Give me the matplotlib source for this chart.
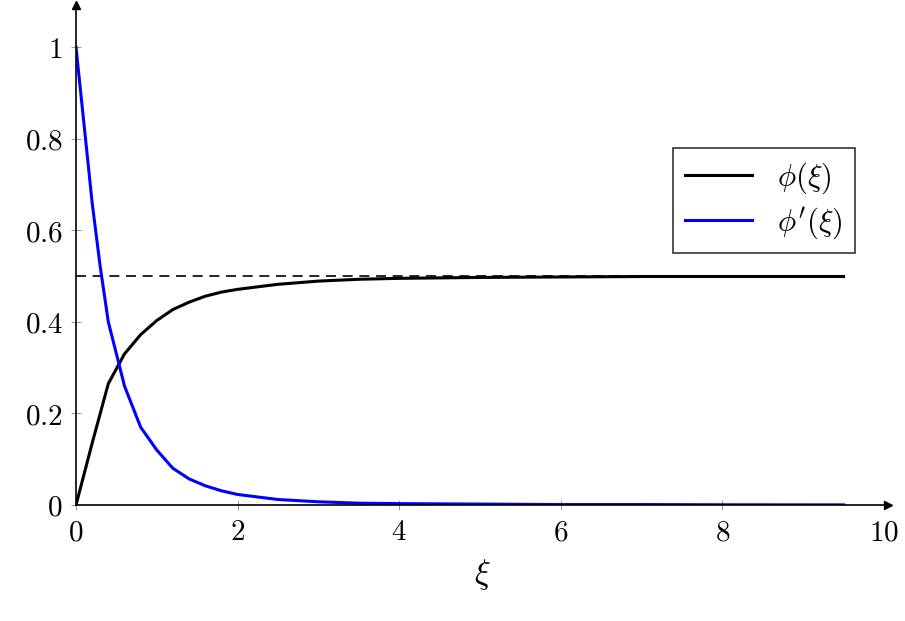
import matplotlib
matplotlib.use("Agg")
import matplotlib.pyplot as plt

plt.rcParams['mathtext.fontset'] = 'cm'
plt.rcParams['font.family'] = 'serif'
plt.rcParams['font.serif'] = ['DejaVu Serif']

xi = [0, 0.2, 0.3, 0.4, 0.6, 0.8, 1.0, 1.2, 1.4, 1.6, 1.8, 2.0, 2.5, 3.0, 3.5, 4.0, 5.0, 6.0, 7.0, 8.0, 9.0, 9.5]
phi = [0, 0.135, 0.2, 0.265, 0.33, 0.372, 0.403, 0.427, 0.443, 0.456, 0.465, 0.471, 0.482, 0.489, 0.493, 0.495, 0.497, 0.498, 0.499, 0.499, 0.499, 0.499]
dphi = [1, 0.66, 0.52, 0.40, 0.26, 0.17, 0.12, 0.08, 0.057, 0.042, 0.031, 0.023, 0.012, 0.007, 0.004, 0.003, 0.002, 0.001, 0.001, 0.0005, 0.0003, 0.0003]
xticks = [0, 2, 4, 6, 8, 10]
yticks = [0, 0.2, 0.4, 0.6, 0.8, 1]
ytick_labels = ['0', '0.2', '0.4', '0.6', '0.8', '1']

fig = plt.figure(figsize=(9.05, 6.21), dpi=100)
ax = fig.add_axes([76/905, 1-505/621, 812/905, 500/621])
ax.set_xlim(0, 10.05)
ax.set_ylim(0, 1.092)

ax.plot([0, 9.5], [0.5, 0.5], 'k--', lw=1.2, dashes=(6, 4))
ax.plot(xi, phi, color='black', lw=2.2, label=r'$\phi(\xi)$')
ax.plot(xi, dphi, color='#0000ff', lw=2.2, label=r"$\phi'(\xi)$")

for s in ['top', 'right']:
    ax.spines[s].set_visible(False)
ax.spines['left'].set_linewidth(1.2)
ax.spines['bottom'].set_linewidth(1.2)
ax.plot(1, 0, '>k', transform=ax.transAxes, clip_on=False, ms=6)
ax.plot(0, 1, '^k', transform=ax.transAxes, clip_on=False, ms=6)

ax.set_xticks(xticks)
ax.set_xticklabels([f'${t}$' for t in xticks], fontsize=21)
ax.set_yticks(yticks)
ax.set_yticklabels([f'${t}$' for t in ytick_labels], fontsize=21)
ax.tick_params(direction='inout', length=7, width=0.6, color='#888888', pad=6)
ax.set_xlabel(r'$\xi$', fontsize=24, labelpad=8)

leg = ax.legend(loc='upper right', bbox_to_anchor=(870/905, 1-133/621), bbox_transform=fig.transFigure,
                fontsize=22, frameon=True, fancybox=False, edgecolor='black', handlelength=2.2,
                borderpad=0.4, labelspacing=0.3)
leg.get_frame().set_linewidth(1.2)

fig.savefig('out.png', dpi=100)
